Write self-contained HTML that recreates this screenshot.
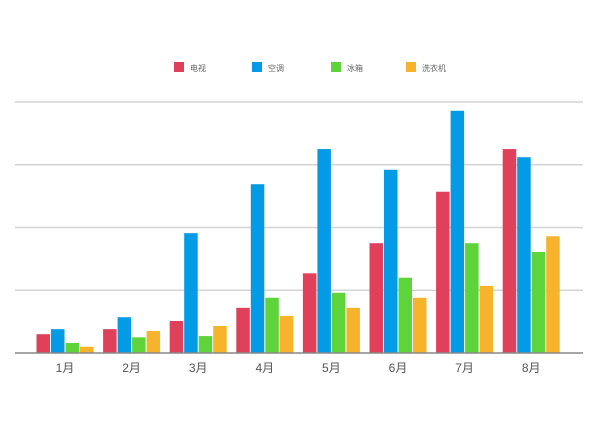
<!DOCTYPE html>
<html><head><meta charset="utf-8"><style>
body{margin:0;background:#fff;}
svg{display:block;font-family:"Liberation Sans","Noto Sans CJK SC",sans-serif;}
</style></head><body>
<svg id="c" width="600" height="425"></svg>
<script>
const categories=["1月","2月","3月","4月","5月","6月","7月","8月"];
const seriesNames=["电视","空调","冰箱","洗衣机"];
const tv=[30,38,51,72,127,175,257,325];
const ac=[38,57,191,269,325,292,386,312];
const fridge=[16,25,27,88,96,120,175,161];
const washer=[10,35,43,59,72,88,107,186];
const yTicks=[0,100,200,300,400];
const colors=["#e0405a","#039be5","#5fd43a","#f6b32b"];
const series=[tv,ac,fridge,washer];
const svg=document.getElementById('c');
const NS="http://www.w3.org/2000/svg";
const y0=353, yTop=102, vMax=400;
const yS=v=>y0-(v/vMax)*(y0-yTop);
const cx=i=>65+i*66.6;
function mk(t,a){const e=document.createElementNS(NS,t);for(const k in a)e.setAttribute(k,a[k]);svg.appendChild(e);return e;}
yTicks.forEach((t,i)=>{if(t===0)return;const l=mk('line',{x1:15,x2:583,y1:yS(t),y2:yS(t),stroke:'#d4d4d4','stroke-width':1.5});

});
categories.forEach((c,i)=>{series.forEach((s,j)=>{const x=cx(i)-28.5+j*14.5;
const r=mk('rect',{x:x,y:yS(s[i]),width:13.5,height:y0-yS(s[i]),fill:colors[j]});

});
const t=mk('text',{x:cx(i),y:372,'text-anchor':'middle','font-size':12,fill:'#555'});t.textContent=c;

});
const ax=mk('line',{x1:15,x2:583,y1:y0,y2:y0,stroke:'#888','stroke-width':1.5});


const lx=[174,252,331,406];
seriesNames.forEach((n,j)=>{const r=mk('rect',{x:lx[j],y:62,width:10,height:10,fill:colors[j]});


const t=mk('text',{x:lx[j]+16,y:71,'font-size':8,fill:'#666'});t.textContent=n;

});
</script>
</body></html>
